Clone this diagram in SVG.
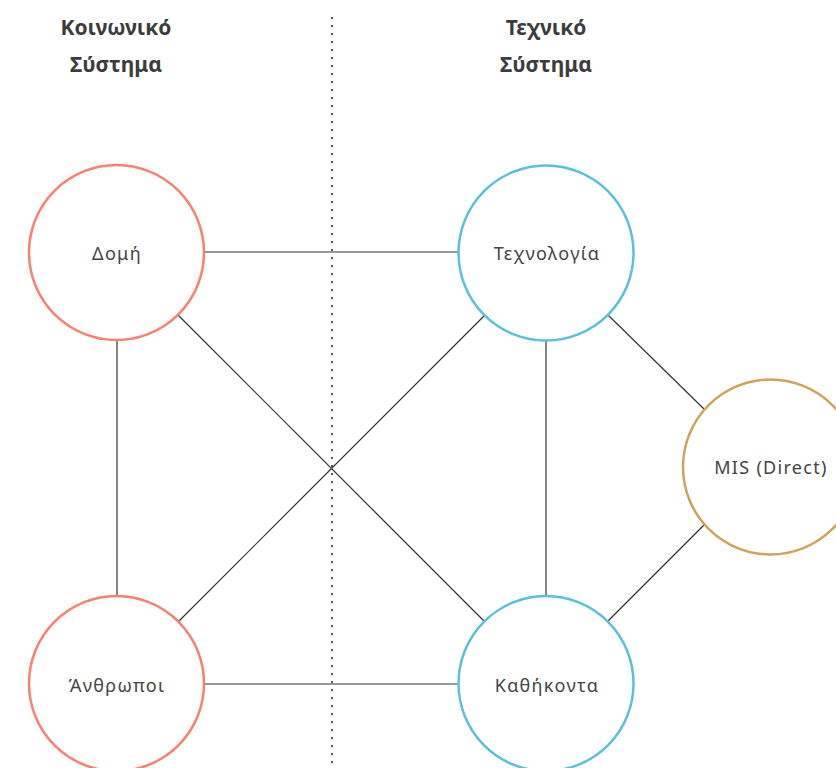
<svg xmlns="http://www.w3.org/2000/svg" width="836" height="768" viewBox="0 0 836 768">
<style>
.title{font-family:"Noto Sans","Liberation Sans",sans-serif;font-weight:bold;font-size:21px;fill:#3c3c3c;text-anchor:middle}
.lbl{font-family:"Noto Sans","Liberation Sans",sans-serif;font-size:18px;letter-spacing:1.3px;fill:#444;text-anchor:middle;dominant-baseline:central}
.node{fill:#fff;stroke-width:2.5}
.soc{stroke:#fa8070}
.tech{stroke:#5bc0d8}
.mis{stroke:#d0a35c}
.edge{stroke:#333;stroke-width:1.2;fill:none}
</style>
<rect width="836" height="768" fill="#fff"/>
<line x1="332" y1="18" x2="332" y2="768" stroke="#333" stroke-width="2.2" stroke-dasharray="0 8" stroke-linecap="round"/>
<text class="title" x="116" y="35">Κοινωνικό</text>
<text class="title" x="116" y="72">Σύστημα</text>
<text class="title" x="546" y="35">Τεχνικό</text>
<text class="title" x="546" y="72">Σύστημα</text>
<g id="connectors">
<line class="edge" x1="204" y1="252" x2="458" y2="252"/>
<line class="edge" x1="117" y1="340" x2="117" y2="595"/>
<line class="edge" x1="178" y1="315" x2="485" y2="622"/>
<line class="edge" x1="485" y1="315" x2="178" y2="622"/>
<line class="edge" x1="546" y1="341" x2="546" y2="595"/>
<line class="edge" x1="608" y1="315" x2="704" y2="409"/>
<line class="edge" x1="704" y1="525" x2="608" y2="621"/>
<line class="edge" x1="204" y1="684" x2="458" y2="684"/>
</g>
<g id="domi"><circle class="node soc" cx="116.5" cy="252.5" r="87.5"/><text class="lbl" x="117" y="253">Δομή</text></g>
<g id="texnologia"><circle class="node tech" cx="546" cy="253" r="87.5"/><text class="lbl" x="547" y="253">Τεχνολογία</text></g>
<g id="mis"><circle class="node mis" cx="770.5" cy="467" r="87.5"/><text class="lbl" x="771" y="467">MIS (Direct)</text></g>
<g id="anthropoi"><circle class="node soc" cx="116.5" cy="683.5" r="87.5"/><text class="lbl" x="117" y="685">Άνθρωποι</text></g>
<g id="kathikonta"><circle class="node tech" cx="546" cy="683.5" r="87.5"/><text class="lbl" x="547" y="685">Καθήκοντα</text></g>
</svg>
